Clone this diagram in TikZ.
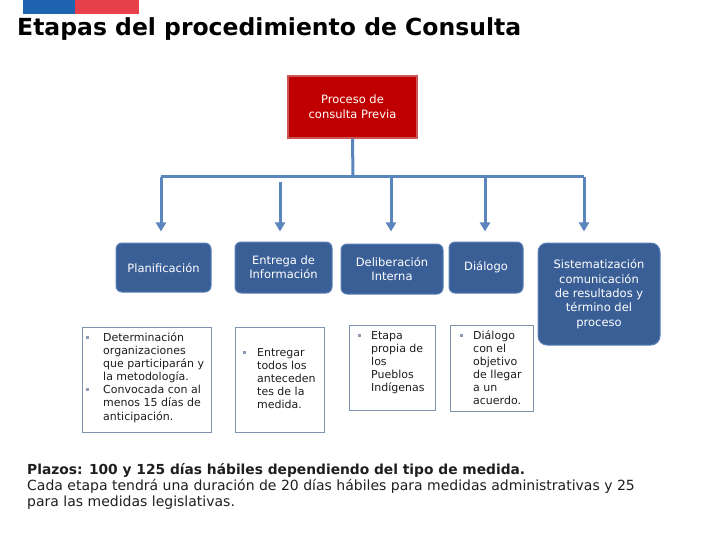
\documentclass[tikz,border=0pt]{standalone}
\usepackage{fontspec}
\setmainfont{DejaVu Sans}
\usetikzlibrary{arrows.meta}
\definecolor{flagblue}{HTML}{1F64B1}
\definecolor{flagred}{HTML}{E8404A}
\definecolor{redfill}{HTML}{C00000}
\definecolor{redline}{HTML}{C95757}
\definecolor{boxblue}{HTML}{3A5F96}
\definecolor{boxline}{HTML}{5B80B6}
\definecolor{arrowc}{HTML}{5A85BD}
\definecolor{wline}{HTML}{7E94AE}
\definecolor{bulletc}{HTML}{8A9BB2}
\definecolor{txt}{HTML}{1E1E1E}
\tikzset{
  redbox/.style={draw=redline, line width=1.2pt, fill=redfill, text=white, align=center, inner sep=0pt,
    font=\fontsize{11.5}{15}\selectfont},
  bluebox/.style={draw=boxline, line width=1pt, fill=boxblue, rounded corners=6pt, text=white, align=center,
    inner sep=0pt, font=\fontsize{11.5}{14.3}\selectfont},
  whitebox/.style={draw=wline, line width=1pt, fill=white, inner sep=0pt},
  boxtext/.style={anchor=base west, align=left, inner sep=0pt, text=txt, font=\fontsize{11}{13.15}\selectfont},
  bul/.style={fill=bulletc, minimum size=3pt, inner sep=0pt},
  conn/.style={draw=arrowc, line width=3pt},
  arr/.style={conn, -{Triangle[width=10pt,length=9pt]}, shorten >=11pt},
}
\begin{document}
\begin{tikzpicture}[x=1pt,y=-1pt]
\useasboundingbox (0,0) rectangle (720,540);
% flag bar
\fill[flagblue] (23,0) rectangle (75,14);
\fill[flagred] (75,0) rectangle (139,14);
% title
\node[anchor=base west, inner sep=0pt, font=\fontsize{23.5}{28}\selectfont\bfseries] (title) at (17,36) {Etapas del procedimiento de Consulta};
% top box
\node[redbox, minimum width=129pt, minimum height=62pt] (top) at (352.5,107) {Proceso de\\consulta Previa};
% stage boxes
\node[bluebox, minimum width=95pt, minimum height=49pt] (plan) at (163.5,267.5) {Planificación};
\node[bluebox, minimum width=97pt, minimum height=51pt] (ent) at (283.5,267.5) {Entrega de\\Información};
\node[bluebox, minimum width=102pt, minimum height=50pt] (del) at (392,269) {Deliberación\\Interna};
\node[bluebox, minimum width=74pt, minimum height=51pt] (dia) at (486,267.5) {Diálogo};
\node[bluebox, minimum width=122pt, minimum height=102pt, rounded corners=9pt] (sis) at (599,294) {Sistematización\\comunicación\\de resultados y\\término del\\proceso};
% connectors
\coordinate (hub) at (353,177);
\coordinate (a1) at (161,177);
\coordinate (a2) at (280,182);
\coordinate (a3) at (391,177);
\coordinate (a4) at (485,177);
\coordinate (a5) at (584,177);
\draw[conn] (top.south) -- (hub);
\draw[conn] (a1) -- (a5);
\draw[arr] (a1) -- (a1 |- plan.north);
\draw[arr] (a2) -- (a2 |- plan.north);
\draw[arr] (a3) -- (a3 |- plan.north);
\draw[arr] (a4) -- (a4 |- plan.north);
\draw[arr] (a5) -- (a5 |- plan.north);
% detail boxes
\node[whitebox, minimum width=129pt, minimum height=105pt] (w1) at (146.5,379.5) {};
\node[whitebox, minimum width=89pt, minimum height=105pt] (w2) at (279.5,379.5) {};
\node[whitebox, minimum width=86pt, minimum height=85pt] (w3) at (392,367.5) {};
\node[whitebox, minimum width=83pt, minimum height=86pt] (w4) at (491.5,368) {};
% texts anchored at the baseline of their last line
\node[bul] (b1) at (87,337) {};
\node[bul] (b2) at (87,389.5) {};
\node[boxtext] (t1) at (103,420) {Determinación\\organizaciones\\que participarán y\\la metodología.\\Convocada con al\\menos 15 días de\\anticipación.};
\node[bul] (b3) at (244,352.5) {};
\node[boxtext] (t2) at (257,408.6) {Entregar\\todos los\\anteceden\\tes de la\\medida.};
\node[bul] (b4) at (359,335) {};
\node[boxtext] (t3) at (371,391.6) {Etapa\\propia de\\los\\Pueblos\\Indígenas};
\node[bul] (b5) at (461,335) {};
\node[boxtext] (t4) at (473,404.8) {Diálogo\\con el\\objetivo\\de llegar\\a un\\acuerdo.};
% bottom text
\node[anchor=base west, inner sep=0pt, font=\fontsize{13.8}{16}\selectfont\bfseries, text=txt] (plazos) at (27,474) {Plazos: 100 y 125 días hábiles dependiendo del tipo de medida.};
\node[anchor=base west, inner sep=0pt, align=left, font=\fontsize{14}{16}\selectfont, text=txt] (cada) at (27,506) {Cada etapa tendrá una duración de 20 días hábiles para medidas administrativas y 25\\para las medidas legislativas.};
\end{tikzpicture}
\end{document}
